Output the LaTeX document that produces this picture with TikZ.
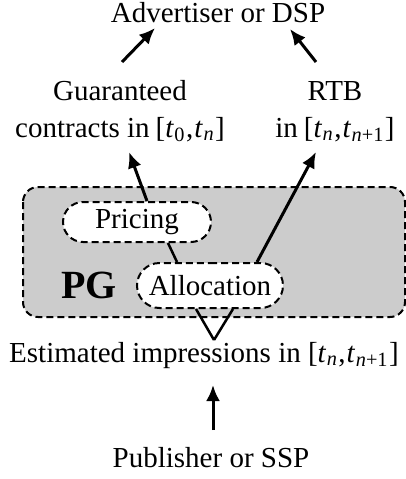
\documentclass[tikz,border=0pt]{standalone}
\usepackage{fontspec}
\setmainfont{Liberation Serif}
\usetikzlibrary{arrows.meta,shapes.misc}
\newcommand{\tm}[1]{\textit{t}\kern0.5pt\textsubscript{#1}}
\begin{document}
\begin{tikzpicture}[x=1pt,y=-1pt,
  lbl/.style={inner sep=0pt, font=\fontsize{29}{37}\selectfont},
  arr/.style={line width=3pt, -{Latex[length=16pt,width=14pt]}},
  link/.style={line width=2.5pt},
  dbox/.style={draw, dashed, dash pattern=on 7pt off 4pt, line width=2pt, fill=white, rounded rectangle, inner sep=0pt}]
\useasboundingbox (0,0) rectangle (406,479);
\fill[white] (0,0) rectangle (406,479);
% PG box
\draw[dashed, dash pattern=on 7pt off 4pt, line width=2pt, fill=gray!40, rounded corners=15pt] (23,187) rectangle (405,317);
\node[lbl, anchor=base, font=\fontsize{40}{40}\selectfont\bfseries] (pg) at (89,298) {PG};
\node[dbox, minimum width=148pt, minimum height=40pt] (pricing) at (137,222) {\fontsize{29}{34}\selectfont Pricing};
\node[dbox, minimum width=146pt, minimum height=45pt] (alloc) at (210,285.5) {\fontsize{29}{34}\selectfont Allocation};
% texts
\node[lbl, anchor=base] (adv) at (218,23) {Advertiser or DSP};
\node[lbl, anchor=base, align=center] (guar) at (120,137) {Guaranteed\\contracts in\hspace{6pt}[\tm{0}\kern1pt,\kern1pt\tm{\textit{n}}\kern1pt]};
\node[lbl, anchor=base, align=center] (rtb) at (335,137) {RTB\\in\hspace{6pt}[\tm{\textit{n}}\kern1pt,\kern1pt\tm{\textit{n}+1}\kern1pt]};
\node[lbl, anchor=base] (est) at (204,362) {Estimated impressions in [\tm{\textit{n}}\kern1pt,\kern1pt\tm{\textit{n}+1}\kern1pt]};
\node[lbl, anchor=base] (pub) at (211,467) {Publisher or SSP};
% arrows
\draw[arr] ([shift={(2,-75)}]guar.base) -- ([shift={(-63,5)}]adv.base);
\draw[arr] ([shift={(-19,-75)}]rtb.base) -- ([shift={(72,6)}]adv.base);
\draw[arr] ([xshift=10pt]pricing.north) -- ([shift={(9,15)}]guar.base);
\draw[arr] ([xshift=47pt]alloc.north) -- ([shift={(-19,15)}]rtb.base);
\draw[link] ([xshift=31pt]pricing.south) -- ([xshift=-33pt]alloc.north);
\draw[link] ([xshift=-14pt]alloc.south) -- ([shift={(10,-22)}]est.base);
\draw[link] ([xshift=23pt]alloc.south) -- ([shift={(10,-22)}]est.base);
\draw[arr] ([shift={(2,-37)}]pub.base) -- ([shift={(9,23)}]est.base);
\end{tikzpicture}
\end{document}
